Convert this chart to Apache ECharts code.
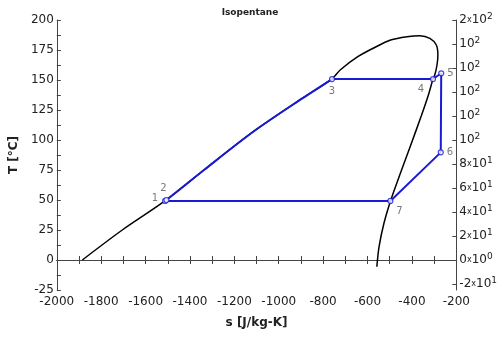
<!DOCTYPE html>
<html>
<head>
<meta charset="utf-8">
<script src="https://cdn.jsdelivr.net/npm/echarts@6/dist/echarts.min.js"></script>
<style>html,body{margin:0;padding:0;background:#fff}#c{width:500px;height:337px}</style>
</head>
<body>
<div id="c"></div>
<script>
// Saturation curve (s [J/kg-K], T [°C])
const satS = [-1885, -1705, -1513, -1337, -1115, -894, -761, -722, -644, -570, -496, -422, -364, -319, -290, -283, -287, -297, -305, -325, -358, -408, -452, -496, -526, -548, -558];
const satT = [0, 25, 49.2, 75, 106.9, 134.7, 150.8, 158.5, 169.4, 176.9, 183.3, 186.1, 186.9, 184.7, 179.2, 170.8, 162.5, 154.2, 150.8, 138, 120, 94.4, 72.2, 49.4, 30.6, 11.1, -5.6];
// Cycle path: pumping/heating along liquid line (2 -> 3)
const liqS = [-1506, -1337, -1115, -894, -760];
const liqT = [50, 75, 106.9, 134.7, 150.8];
// Cycle path: 3 -> 4 -> 5 -> 6 -> 7 -> 1 -> 2
const cycS = [-760, -305, -268, -270, -497, -1512, -1506];
const cycT = [150.8, 150.8, 155.6, 89.7, 49.2, 49.2, 50];
// State points
const ptNames = ['1', '2', '3', '4', '5', '6', '7'];
const ptS = [-1512, -1506, -760, -305, -268, -270, -497];
const ptT = [49.2, 50, 150.8, 150.8, 155.6, 89.7, 49.2];
// Right axis tick values
const rightTicks = [-20, 0, 20, 40, 60, 80, 100, 120, 140, 160, 180, 200];

const FONT = 'DejaVu Sans';
const labelPos = {
  '1': {position: 'left', distance: 4, offset: [0, -3]},
  '2': {position: 'top', distance: 3, offset: [-3, 0]},
  '3': {position: 'bottom', distance: 4},
  '4': {position: 'bottom', distance: 2, offset: [-12, 0]},
  '5': {position: 'right', distance: 3},
  '6': {position: 'right', distance: 3},
  '7': {position: 'bottom', distance: 2, offset: [9, 0]}
};

function sci(v) {
  if (v === 0) return '{m|0}{x|x}{m|10}{s|0}';
  const e = Math.floor(Math.log10(Math.abs(v)));
  const mant = Math.trunc(v / Math.pow(10, e));
  const sign = v < 0 ? '-' : '';
  const am = Math.abs(mant);
  if (am === 1) return '{m|' + sign + '10}{s|' + e + '}';
  return '{m|' + sign + am + '}{x|x}{m|10}{s|' + e + '}';
}

const chart = echarts.init(document.getElementById('c'), null, {renderer: 'canvas'});
const axisColor = '#444';
const txt = '#222';
const blue = '#1a1ad6';
chart.setOption({
  animation: false,
  textStyle: {fontFamily: FONT},
  title: {text: 'Isopentane', left: 'center', top: 3, textStyle: {fontSize: 9, fontWeight: 'bold', color: '#222', fontFamily: FONT}},
  grid: {left: 50, right: 43, top: 20, bottom: 47},
  xAxis: [{
    type: 'value', min: -2000, max: -200, interval: 200, position: 'bottom',
    name: 's [J/kg-K]', nameLocation: 'middle', nameGap: 27,
    nameTextStyle: {fontSize: 12, fontWeight: 'bold', color: txt, fontFamily: FONT},
    axisLine: {lineStyle: {color: axisColor}},
    axisTick: {inside: true, length: 4, lineStyle: {color: axisColor}},
    minorTick: {show: true, splitNumber: 2, length: 4, lineStyle: {color: axisColor}},
    axisLabel: {fontSize: 12, color: txt, margin: 6, fontFamily: FONT, formatter: v => String(v)},
    splitLine: {show: false}
  }, {
    type: 'value', min: -2000, max: -200, interval: 100, position: 'top',
    axisLine: {show: true, lineStyle: {color: axisColor}},
    axisTick: {inside: true, length: 4, lineStyle: {color: axisColor}},
    axisLabel: {show: false}, splitLine: {show: false}
  }],
  yAxis: [{
    type: 'value', min: -25, max: 200, interval: 25, position: 'left',
    name: 'T [°C]', nameLocation: 'middle', nameGap: 34, nameRotate: 90,
    nameTextStyle: {fontSize: 12, fontWeight: 'bold', color: txt, fontFamily: FONT},
    axisLine: {show: true, lineStyle: {color: axisColor}},
    axisTick: {inside: true, length: 4, lineStyle: {color: axisColor}},
    minorTick: {show: true, splitNumber: 2, length: 4, lineStyle: {color: axisColor}},
    axisLabel: {fontSize: 12, color: txt, margin: 3, fontFamily: FONT},
    splitLine: {show: false}
  }, {
    type: 'value', min: -25, max: 200, position: 'right',
    axisLine: {show: true, lineStyle: {color: axisColor}},
    axisTick: {show: true, inside: true, length: 4, customValues: rightTicks, lineStyle: {color: axisColor}},
    axisLabel: {
      show: true, customValues: rightTicks, margin: 3, formatter: sci,
      rich: {
        m: {fontSize: 12, color: txt, fontFamily: FONT},
        x: {fontSize: 8, color: txt, fontFamily: FONT},
        s: {fontSize: 9, color: txt, fontFamily: FONT, verticalAlign: 'top', padding: [0, 0, 7, 0]}
      }
    },
    splitLine: {show: false}
  }],
  series: [{
    type: 'line', name: 'sat', showSymbol: false, symbol: 'none',
    data: satS.map((s, i) => [s, satT[i]]),
    lineStyle: {color: '#000', width: 1.5}, smooth: 0.3, z: 2
  }, {
    type: 'line', name: 'liq', showSymbol: false, symbol: 'none',
    data: liqS.map((s, i) => [s, liqT[i]]),
    lineStyle: {color: blue, width: 2}, smooth: 0.3, z: 3
  }, {
    type: 'line', name: 'cycle', showSymbol: false, symbol: 'none',
    data: cycS.map((s, i) => [s, cycT[i]]),
    lineStyle: {color: blue, width: 2}, z: 3
  }, {
    type: 'scatter', name: 'points', symbol: 'circle', symbolSize: 5,
    itemStyle: {color: '#fff', borderColor: blue, borderWidth: 1.2},
    data: ptNames.map((n, i) => ({
      value: [ptS[i], ptT[i]], name: n,
      label: Object.assign({show: true, formatter: n, fontSize: 10, color: '#555', fontFamily: FONT}, labelPos[n])
    })),
    z: 4
  }]
});
</script>
</body>
</html>
